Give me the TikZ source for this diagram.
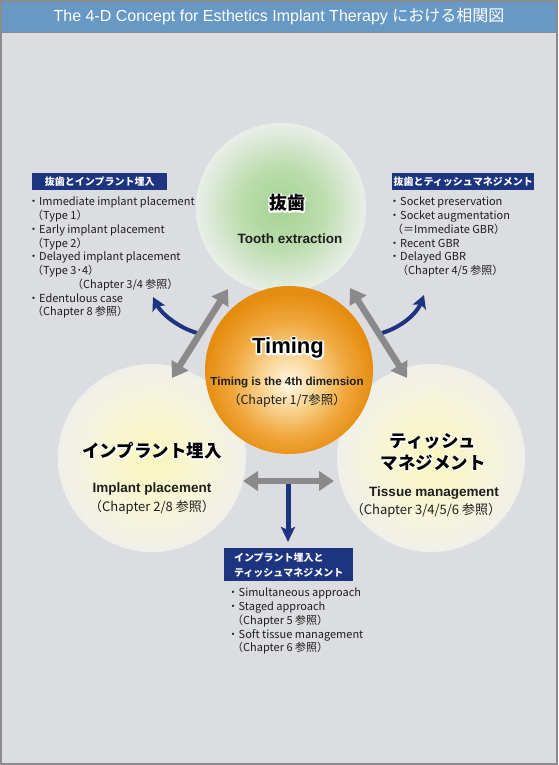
\documentclass[tikz,border=0pt]{standalone}
\usepackage{fontspec}
\setmainfont{Liberation Sans}
\newfontfamily\jp{Noto Sans CJK JP}
\usetikzlibrary{arrows.meta}
\newcommand\outl[2]{\rlap{\special{pdf:literal direct 1 Tr 1 1 1 RG #1 w 1 j}#2\special{pdf:literal direct 0 Tr 0 0 0 RG}}#2}
\definecolor{bggray}{RGB}{220,221,224}
\definecolor{framegray}{RGB}{140,140,142}
\definecolor{titleblue}{RGB}{104,152,196}
\definecolor{navy}{RGB}{29,52,128}
\definecolor{arrowgray}{RGB}{138,138,138}
\definecolor{txt}{RGB}{30,30,30}
\definecolor{gA}{RGB}{166,210,146}
\definecolor{gB}{RGB}{186,221,172}
\definecolor{gC}{RGB}{234,238,233}
\definecolor{yA}{RGB}{250,246,188}
\definecolor{yB}{RGB}{247,245,215}
\definecolor{yC}{RGB}{240,240,234}
\definecolor{oA}{RGB}{255,248,232}
\definecolor{oB}{RGB}{249,214,150}
\definecolor{oC}{RGB}{240,168,62}
\definecolor{oD}{RGB}{229,141,16}
\pgfdeclareradialshading{greenball}{\pgfpoint{0bp}{0bp}}{color(0bp)=(gA); color(12bp)=(gB); color(25bp)=(gC); color(50bp)=(gC)}
\pgfdeclareradialshading{yellowball}{\pgfpoint{0bp}{0bp}}{color(0bp)=(yA); color(14bp)=(yB); color(25bp)=(yC); color(50bp)=(yC)}
\pgfdeclareradialshading{orangeball}{\pgfpoint{0bp}{-4bp}}{color(0bp)=(oA); color(8bp)=(oB); color(17bp)=(oC); color(25bp)=(oD); color(50bp)=(oD)}
\tikzset{
  ball/.style={circle, inner sep=0pt, draw=none},
  grayarrow/.style={draw=arrowgray, line width=6.5pt, {Triangle[length=15pt,width=19pt]}-{Triangle[length=15pt,width=19pt]}},
  bluearrow/.style={draw=navy, line width=4pt, -{Stealth[length=13pt,width=14pt,inset=3pt]}},
  lbl/.style={fill=navy, text=white, inner sep=0pt, font=\jp\bfseries\fontsize{10}{15}\selectfont},
  listtxt/.style={text=txt, inner sep=0pt, align=left, font=\fontsize{11}{13.75}\selectfont},
  big/.style={text=black, inner sep=0pt, font=\jp\bfseries\fontsize{17.5}{22}\selectfont},
  sub/.style={text=txt, inner sep=0pt, font=\bfseries\fontsize{13.5}{16}\selectfont},
  chap/.style={text=txt, inner sep=0pt, font=\fontsize{13}{16}\selectfont},
}
\begin{document}
\begin{tikzpicture}[x=1pt,y=-1pt]
\useasboundingbox (0,0) rectangle (558,765);
\fill[bggray] (0,0) rectangle (558,765);
\fill[titleblue] (0,0) rectangle (558,32);
\draw[framegray, line width=1pt] (0,32.5) -- (558,32.5);
\draw[framegray, line width=2pt] (1,1) rectangle (557,764);
\node[text=white, inner sep=0pt, font=\fontsize{16}{19}\selectfont] (title) at (279,16)
  {The 4-D Concept for Esthetics Implant Therapy \jp{における相関図}};

% circles
\node[ball, shading=greenball, minimum size=170pt] (tooth) at (281,208) {};
\node[ball, shading=yellowball, minimum size=188pt] (implant) at (152,458) {};
\node[ball, shading=yellowball, minimum size=188pt] (tissue) at (431,458) {};
\node[ball, shading=orangeball, minimum size=168pt] (timing) at (289,370) {};

% blue arrows (under gray ones)
\coordinate (bL0) at (197,333);
\coordinate (bL1) at (153,297);
\coordinate (bR0) at (382,333);
\coordinate (bR1) at (424,295);
\coordinate (bD0) at (288,482);
\coordinate (bD1) at (288,542);
\draw[bluearrow] (bL0) .. controls (177,327) and (161,313) .. (bL1);
\draw[bluearrow] (bR0) .. controls (402,327) and (417,313) .. (bR1);
\draw[bluearrow, line width=5pt, -{Stealth[length=15pt,width=14pt,inset=3pt]}] (bD0) -- (bD1);

% gray double arrows
\coordinate (gL0) at (228,289);
\coordinate (gL1) at (172,378);
\coordinate (gR0) at (350,288);
\coordinate (gR1) at (407,378);
\coordinate (gH0) at (243,481);
\coordinate (gH1) at (334,481);
\draw[grayarrow] (gL0) -- (gL1);
\draw[grayarrow] (gR0) -- (gR1);
\draw[grayarrow] (gH0) -- (gH1);

% circle texts
\node[big, font=\jp\bfseries\fontsize{18}{22}\selectfont] (toothjp) at (287,203) {\outl{3}{抜歯}};
\node[sub] (toothen) at (290,239) {Tooth extraction};

\node[inner sep=0pt, font=\bfseries\fontsize{22}{26}\selectfont] (timingt) at (288,348) {\outl{3.5}{Timing}};
\node[sub, font=\bfseries\fontsize{11.6}{14}\selectfont] (timingen) at (287,383) {Timing is the 4th dimension};
\node[chap, font=\fontsize{12.5}{15}\selectfont] (timingch) at (287,401) {\jp{（}Chapter 1/7\jp{参照）}};

\node[big] (implantjp) at (152,451) {\outl{2}{インプラント埋入}};
\node[sub] (implanten) at (152,489) {Implant placement};
\node[chap] (implantch) at (152,507) {\jp{（}Chapter 2/8 \jp{参照）}};

\node[big, align=center] (tissuejp) at (433,452) {\outl{2}{ティッシュ}\\[0pt]\outl{2}{マネジメント}};
\node[sub] (tissueen) at (434,493) {Tissue management};
\node[chap] (tissuech) at (426,510) {\jp{（}Chapter 3/4/5/6 \jp{参照）}};

% label boxes
\node[lbl, anchor=north west, minimum width=135pt, minimum height=17pt] (lbA) at (32,173) {抜歯とインプラント埋入};
\node[lbl, anchor=north west, minimum width=142pt, minimum height=17pt] (lbB) at (392,173) {抜歯とティッシュマネジメント};
\node[lbl, anchor=north west, minimum width=129pt, minimum height=33pt, align=left, inner xsep=6pt] (lbC) at (224,548) {インプラント埋入と\\ティッシュマネジメント};

% lists
\node[listtxt, anchor=north west] (listA) at (28,197) {%
\jp{・}Immediate implant placement\\
\hspace*{4pt}\jp{（}Type 1\jp{）}\\
\jp{・}Early implant placement\\
\hspace*{4pt}\jp{（}Type 2\jp{）}\\
\jp{・}Delayed implant placement\\
\hspace*{4pt}\jp{（}Type 3\jp{･}4\jp{）}\\
\hspace*{44pt}\jp{（}Chapter 3/4 \jp{参照）}\\
\jp{・}Edentulous case\\
\hspace*{4pt}\jp{（}Chapter 8 \jp{参照）}};

\node[listtxt, anchor=north west] (listB) at (389,197) {%
\jp{・}Socket preservation\\
\jp{・}Socket augmentation\\
\hspace*{3pt}\jp{（＝}Immediate GBR\jp{）}\\
\jp{・}Recent GBR\\
\jp{・}Delayed GBR\\
\hspace*{8pt}\jp{（}Chapter 4/5 \jp{参照）}};

\node[listtxt, anchor=north west] (listC) at (227.5,588) {%
\jp{・}Simultaneous approach\\
\jp{・}Staged approach\\
\hspace*{4.5pt}\jp{（}Chapter 5 \jp{参照）}\\
\jp{・}Soft tissue management\\
\hspace*{4.5pt}\jp{（}Chapter 6 \jp{参照）}};
\end{tikzpicture}
\end{document}
